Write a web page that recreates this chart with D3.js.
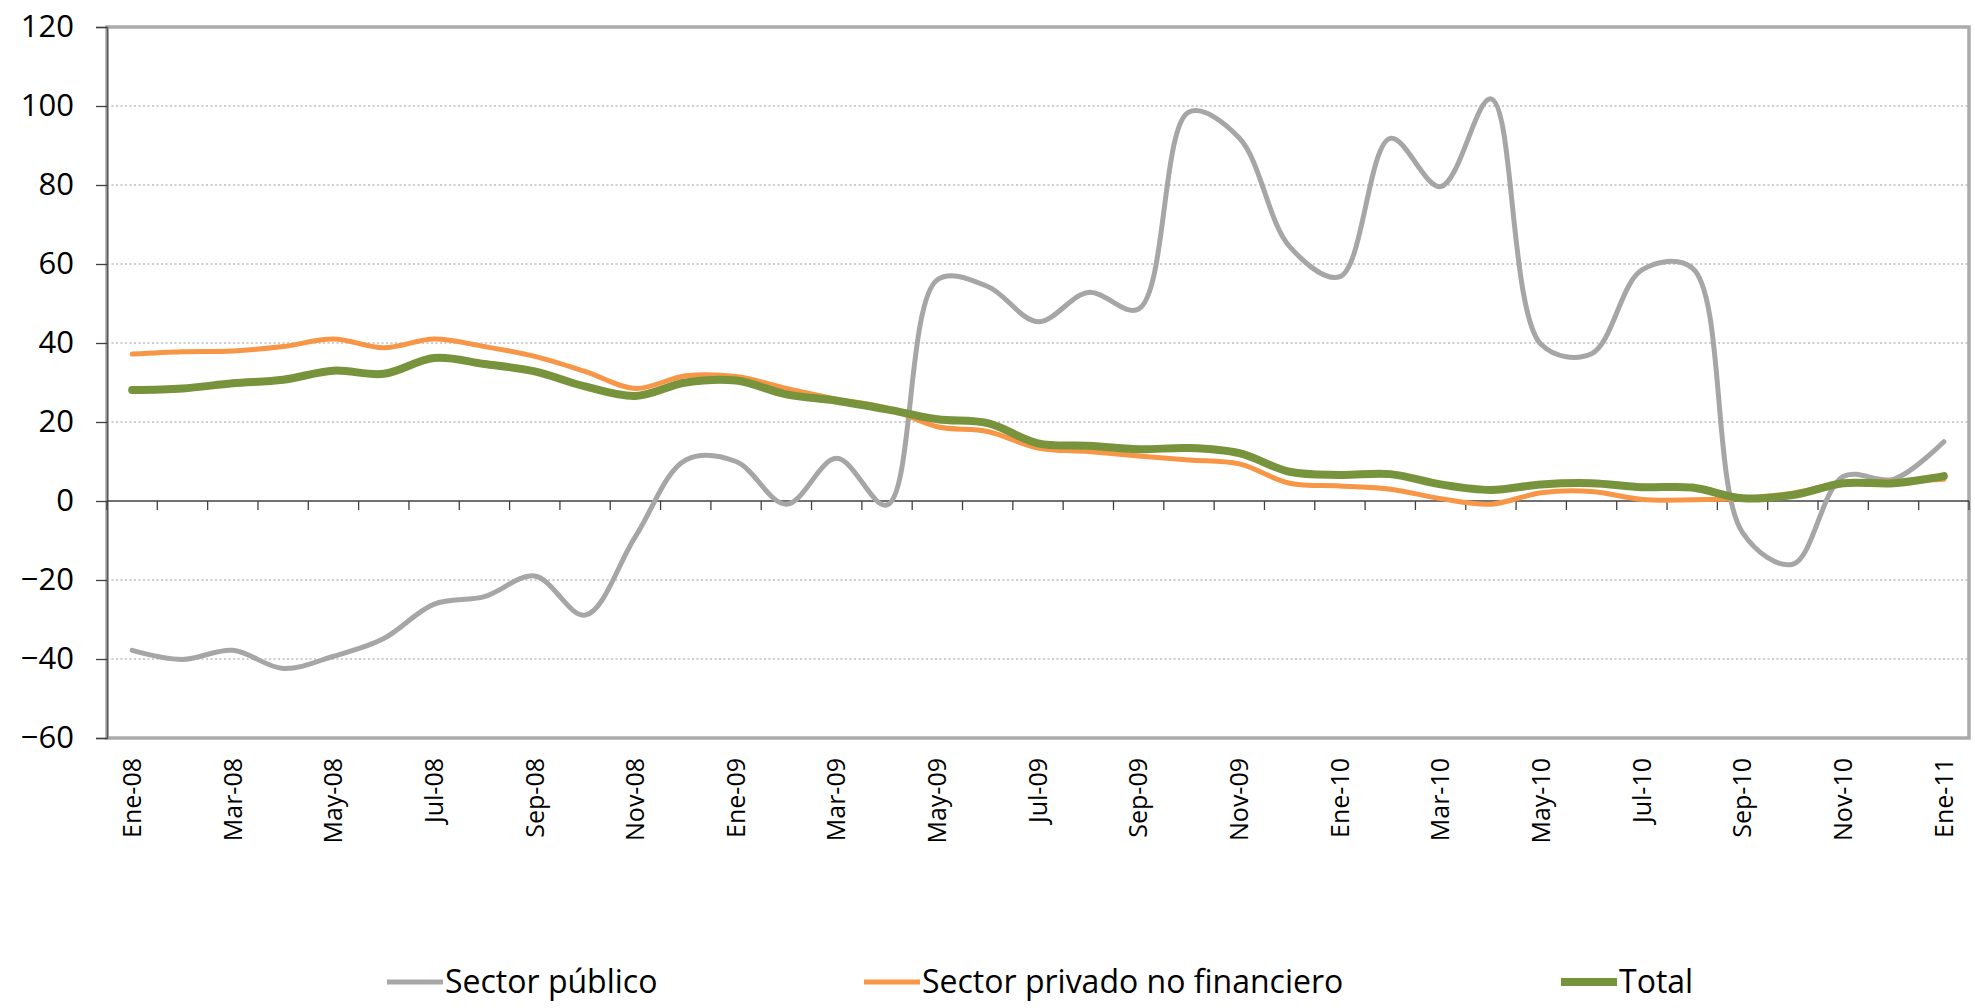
<!DOCTYPE html>
<html>
<head>
<meta charset="utf-8">
<script src="https://cdn.jsdelivr.net/npm/d3@7"></script>
<style>
  html, body { margin: 0; padding: 0; background: #ffffff; }
  svg { display: block; }
  text { font-family: "Open Sans", "Liberation Sans", sans-serif; fill: #000; }
</style>
</head>
<body>
<svg id="chart" width="1975" height="1008"></svg>
<script>
const categories = ["Ene-08","Feb-08","Mar-08","Abr-08","May-08","Jun-08","Jul-08","Ago-08","Sep-08","Oct-08","Nov-08","Dic-08",
  "Ene-09","Feb-09","Mar-09","Abr-09","May-09","Jun-09","Jul-09","Ago-09","Sep-09","Oct-09","Nov-09","Dic-09",
  "Ene-10","Feb-10","Mar-10","Abr-10","May-10","Jun-10","Jul-10","Ago-10","Sep-10","Oct-10","Nov-10","Dic-10",
  "Ene-11"];
const tickLabels = ["Ene-08","Mar-08","May-08","Jul-08","Sep-08","Nov-08","Ene-09","Mar-09","May-09","Jul-09","Sep-09","Nov-09",
  "Ene-10","Mar-10","May-10","Jul-10","Sep-10","Nov-10","Ene-11"];
const yTicks = [-60,-40,-20,0,20,40,60,80,100,120];

const sectorPublico = [-37.8,-40.1,-37.8,-42.4,-39.3,-34.8,-26.1,-24.2,-19.0,-28.9,-9.0,10.4,
  10.0,-0.8,10.8,-1.0,56.0,54.3,45.4,52.8,48.6,98.5,91.9,64.4,
  56.8,91.8,79.6,101.8,39.6,37.3,58.5,59.0,-8.0,-16.0,6.2,5.5,
  15.0];
const sectorPrivado = [37.2,37.8,38.0,39.1,41.0,38.8,41.0,39.1,36.6,32.8,28.5,31.7,
  31.5,28.5,25.8,23.5,18.8,17.6,13.4,12.5,11.4,10.4,9.4,4.5,
  3.8,3.0,0.6,-0.8,2.1,2.4,0.4,0.3,0.7,2.0,4.6,4.9,
  5.5];
const total = [28.1,28.5,29.8,30.7,33.0,32.2,36.2,34.7,32.8,29.0,26.6,30.0,
  30.5,27.0,25.4,23.2,20.7,19.7,14.6,14.0,13.1,13.4,12.1,7.4,
  6.6,6.8,4.2,2.8,4.2,4.5,3.5,3.4,0.7,1.5,4.5,4.5,
  6.3];

const seriesNames = ["Sector público","Sector privado no financiero","Total"];
const seriesColors = ["#A6A6A6","#F79646","#77933C"];
const seriesWidths = [5, 5, 8];
const seriesData = [sectorPublico, sectorPrivado, total];

(function () {
const svg = d3.select("#chart");
const pLeft = 107, pRight = 1969, pTop = 27, pBottom = 738;

const x = d3.scaleBand().domain(categories).range([pLeft, pRight]).paddingInner(0).paddingOuter(0);
const y = d3.scaleLinear().domain([-60, 120]).range([pBottom, pTop]);
const cx = c => x(c) + x.bandwidth() / 2;

svg.append("rect").attr("width", 1975).attr("height", 1008).attr("fill", "#fff");

// gridlines
svg.append("g").selectAll("line").data(yTicks.filter(v => v !== -60 && v !== 120 && v !== 0)).join("line")
  .attr("x1", pLeft).attr("x2", pRight)
  .attr("y1", d => y(d)).attr("y2", d => y(d))
  .attr("stroke", "#BDBDBD").attr("stroke-width", 1.5).attr("stroke-dasharray", "2,2.5");

// plot border
svg.append("rect").attr("x", pLeft).attr("y", pTop).attr("width", pRight - pLeft).attr("height", pBottom - pTop)
  .attr("fill", "none").attr("stroke", "#ABABAB").attr("stroke-width", 3.5);

// y axis
const yAxis = d3.axisLeft(y).tickValues(yTicks).tickSize(11).tickPadding(22).tickFormat(d3.format("d"));
const gy = svg.append("g").attr("transform", `translate(${pLeft},0)`).call(yAxis);
gy.select(".domain").attr("stroke", "#595959").attr("stroke-width", 1.5);
gy.selectAll(".tick line").attr("stroke", "#404040").attr("stroke-width", 1.3);
gy.selectAll(".tick text").style("font-size", "31px").style("font-family", "'Open Sans', sans-serif").attr("fill", "#000");

// x axis line at zero with ticks at category boundaries
const y0 = y(0);
svg.append("line").attr("x1", pLeft).attr("x2", pRight).attr("y1", y0).attr("y2", y0)
  .attr("stroke", "#404040").attr("stroke-width", 1.5);
const boundaries = categories.map(c => x(c)).concat([x(categories[categories.length - 1]) + x.bandwidth()]);
svg.append("g").selectAll("line").data(boundaries).join("line")
  .attr("x1", d => d).attr("x2", d => d).attr("y1", y0).attr("y2", y0 + 9)
  .attr("stroke", "#404040").attr("stroke-width", 1.3);

// x labels (low position)
svg.append("g").selectAll("text").data(tickLabels).join("text")
  .attr("transform", d => `translate(${cx(d)},758) rotate(-90)`)
  .attr("text-anchor", "end").attr("dy", "0.35em")
  .style("font-size", "25px").text(d => d);

// lines
const line = d3.line().x((d, i) => cx(categories[i])).y(d => y(d)).curve(d3.curveCatmullRom.alpha(0.5));
svg.append("g").selectAll("path").data(seriesData).join("path")
  .attr("d", d => line(d)).attr("fill", "none")
  .attr("stroke", (d, i) => seriesColors[i]).attr("stroke-width", (d, i) => seriesWidths[i])
  .attr("stroke-linecap", "round").attr("stroke-linejoin", "round");

// legend
const legendX = [387, 864, 1561];
const lg = svg.append("g").selectAll("g").data(seriesNames).join("g")
  .attr("transform", (d, i) => `translate(${legendX[i]},982)`);
lg.append("line").attr("x1", 0).attr("x2", 56).attr("y1", 0).attr("y2", 0)
  .attr("stroke", (d, i) => seriesColors[i]).attr("stroke-width", (d, i) => seriesWidths[i]);
lg.append("text").attr("x", 58).attr("dy", "0.35em").style("font-size", "32px").text(d => d);
})();
</script>
</body>
</html>
